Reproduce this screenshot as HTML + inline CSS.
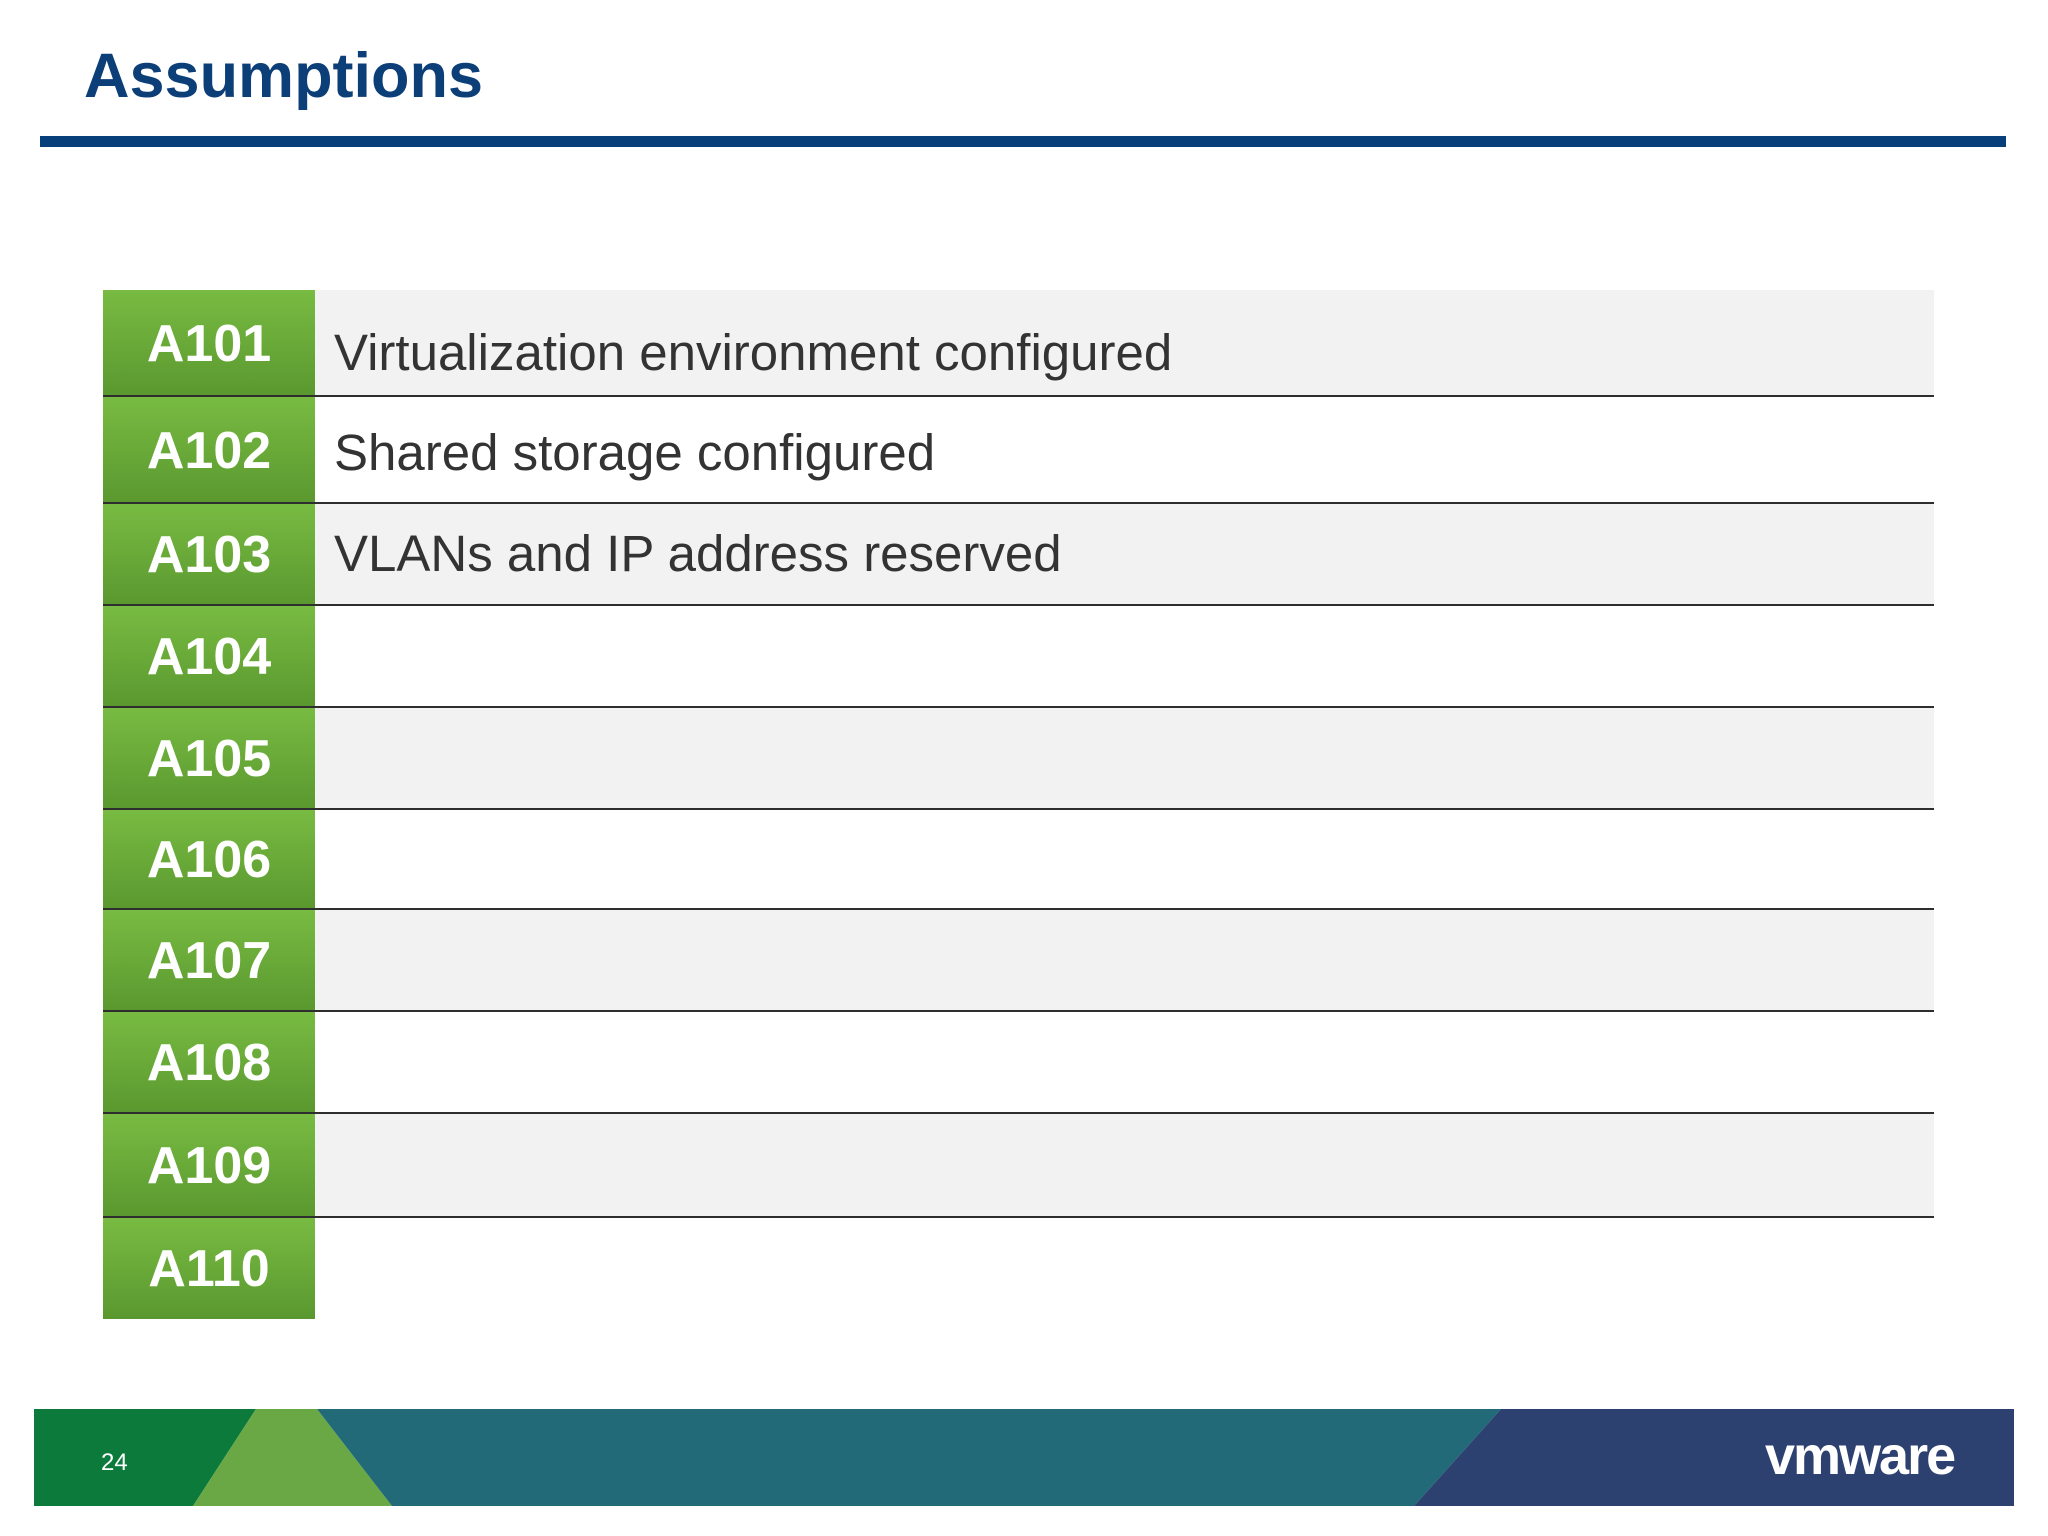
<!DOCTYPE html>
<html><head><meta charset="utf-8">
<style>
body{margin:0;width:2048px;height:1536px;background:#fff;position:relative;overflow:hidden;font-family:"Liberation Sans",Arial,sans-serif}
.abs{position:absolute}
.row{position:absolute;left:103px;width:1831px}
.lab{position:absolute;left:0;top:0;width:212px;height:100%;background:linear-gradient(#78bb42,#5a982f);color:#fff;font-weight:bold;font-size:52px;display:flex;align-items:center;justify-content:center}
.desc{position:absolute;left:231px;color:#333;font-size:51px;white-space:nowrap}
.line{position:absolute;left:0;width:1831px;height:3px;background:#2e2e2e}
</style></head><body>
<div class="abs" style="left:84px;top:40px;font-size:63px;font-weight:bold;color:#0c3e78">Assumptions</div>
<div class="abs" style="left:40px;top:136px;width:1966px;height:11px;background:#073f7a"></div>
<div id="tbl"></div>
<svg class="abs" style="left:0;top:0" width="2048" height="1536">
<polygon points="34,1409 256,1409 193,1506 34,1506" fill="#0b7a3a"/>
<polygon points="256,1409 317,1409 392,1506 193,1506" fill="#6aa845"/>
<polygon points="317,1409 1501,1409 1414,1506 392,1506" fill="#226a78"/>
<polygon points="1501,1409 2014,1409 2014,1506 1414,1506" fill="#2c4170"/>
<text x="101" y="1470" fill="#fff" font-size="24" font-family="Liberation Sans">24</text>
<text x="1765" y="1474" fill="#fff" font-size="54" font-weight="bold" font-family="Liberation Sans" letter-spacing="-2">vmware</text>
</svg>
<script>
const bounds=[290,397,504,606,708,810,910,1012,1114,1218,1319];
const labels=["A101","A102","A103","A104","A105","A106","A107","A108","A109","A110"];
const descs=["Virtualization environment configured","Shared storage configured","VLANs and IP address reserved","","","","","","",""];
const baseOff=[80,73,67];
const tbl=document.getElementById('tbl');
for(let i=0;i<labels.length;i++){
  const r=document.createElement('div');r.className='row';
  
  
  r.style.top=bounds[i]+'px';r.style.height=(bounds[i+1]-bounds[i])+'px';
  r.style.background=(i%2==0&&i<9)?'#f2f2f2':'#fff';
  const l=document.createElement('div');l.className='lab';l.textContent=labels[i];
  
  
  r.appendChild(l);
  if(descs[i]){const d=document.createElement('div');d.className='desc';d.textContent=descs[i];
    
    
    d.style.top=(baseOff[i]-47)+'px';r.appendChild(d);}
  if(i<labels.length-1){const ln=document.createElement('div');ln.className='line';
    
    
    ln.style.top=(bounds[i+1]-bounds[i]-2)+'px';r.appendChild(ln);}
  tbl.appendChild(r);
}
</script>
</body></html>
